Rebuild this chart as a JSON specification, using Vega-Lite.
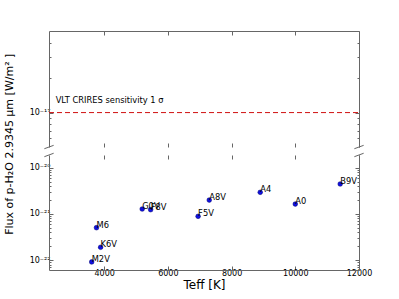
{
  "$schema": "https://vega.github.io/schema/vega-lite/v6.json",
  "padding": {"left": 4, "top": 30, "right": 5, "bottom": 5},
  "title": {"text": "Flux of p-H₂O 2.9345 μm [W/m² ]", "orient": "left", "anchor": "middle", "fontSize": 11, "fontWeight": "normal", "font": "DejaVu Sans", "color": "#000", "offset": 14, "dx": 16},
  "datasets": {
    "stars": [
      {"label": "M2V", "T": 3610, "F": 9.2e-23},
      {"label": "K6V", "T": 3890, "F": 1.91e-22},
      {"label": "M6", "T": 3760, "F": 5.06e-22},
      {"label": "G0V", "T": 5195, "F": 1.28e-21},
      {"label": "F8V", "T": 5460, "F": 1.24e-21},
      {"label": "F5V", "T": 6950, "F": 8.9e-22},
      {"label": "A8V", "T": 7300, "F": 2.0e-21},
      {"label": "A4", "T": 8900, "F": 2.94e-21},
      {"label": "A0", "T": 10000, "F": 1.64e-21},
      {"label": "B9V", "T": 11410, "F": 4.45e-21}
    ]
  },
  "vconcat": [
    {
      "width": 310,
      "height": 116,
      "layer": [
        {
          "data": {"values": [{"T": 2480, "F": 1.21e-17, "label": "VLT CRIRES sensitivity 1 σ"}]},
          "mark": {"type": "text", "align": "left", "baseline": "alphabetic", "fontSize": 8.3, "font": "DejaVu Sans", "color": "#000"},
          "encoding": {
            "x": {"field": "T", "type": "quantitative", "scale": {"domain": [2270, 12000], "nice": false, "zero": false},
                  "axis": {"orient": "bottom", "labels": false, "domain": false, "values": [4000, 6000, 8000, 10000, 12000], "tickSize": -4, "title": null}},
            "y": {"field": "F", "type": "quantitative", "scale": {"type": "log", "domain": [5.05e-18, 5.05e-17], "nice": false},
                  "axis": {"orient": "left", "title": null, "values": [6e-18, 7e-18, 8e-18, 9e-18, 1e-17, 2e-17, 3e-17, 4e-17],
                           "labelExpr": "datum.value == 1e-17 ? '10⁻¹⁷' : ''",
                           "tickSize": {"condition": {"test": "datum.value == 1e-17", "value": -4}, "value": -2}}},
            "text": {"field": "label"}
          }
        },
        {
          "data": {"values": [{"T0": 2270, "T1": 12000, "F": 1e-17}]},
          "mark": {"type": "rule", "color": "#d01010", "strokeDash": [5, 3], "strokeWidth": 1},
          "encoding": {
            "x": {"field": "T0", "type": "quantitative", "scale": {"domain": [2270, 12000], "nice": false, "zero": false},
                  "axis": {"orient": "top", "labels": false, "values": [4000, 6000, 8000, 10000, 12000], "tickSize": -4, "title": null}},
            "x2": {"field": "T1"},
            "y": {"field": "F", "type": "quantitative", "scale": {"type": "log", "domain": [5.05e-18, 5.05e-17], "nice": false},
                  "axis": {"orient": "right", "title": null, "labels": false, "values": [6e-18, 7e-18, 8e-18, 9e-18, 1e-17, 2e-17, 3e-17, 4e-17],
                           "tickSize": {"condition": {"test": "datum.value == 1e-17", "value": -4}, "value": -2}}}
          }
        },
        {
          "data": {"values": [{"T0": 2124, "T1": 2416, "F0": 4.88e-18, "F1": 5.22e-18}, {"T0": 11854, "T1": 12146, "F0": 4.88e-18, "F1": 5.22e-18}]},
          "mark": {"type": "rule", "color": "#666", "strokeWidth": 1},
          "encoding": {
            "x": {"field": "T0", "type": "quantitative", "scale": {"domain": [2270, 12000], "nice": false, "zero": false}, "axis": null},
            "x2": {"field": "T1"},
            "y": {"field": "F0", "type": "quantitative", "scale": {"type": "log", "domain": [5.05e-18, 5.05e-17], "nice": false}, "axis": null},
            "y2": {"field": "F1"}
          }
        }
      ],
      "resolve": {"axis": {"x": "independent", "y": "independent"}}
    },
    {
      "width": 310,
      "height": 115,
      "layer": [
        {
          "data": {"name": "stars"},
          "mark": {"type": "point", "filled": true, "size": 22, "color": "#1010e0", "stroke": "#000070", "strokeWidth": 0.5, "opacity": 1},
          "encoding": {
            "x": {"field": "T", "type": "quantitative", "scale": {"domain": [2270, 12000], "nice": false, "zero": false},
                  "axis": {"orient": "bottom", "title": "Teff [K]", "titleFontSize": 12, "titlePadding": 2, "format": "d", "labelFlush": false, "values": [4000, 6000, 8000, 10000, 12000], "tickSize": -4}},
            "y": {"field": "F", "type": "quantitative", "scale": {"type": "log", "domain": [6.17e-23, 1.88e-20], "nice": false},
                  "axis": {"orient": "left", "title": null,
                           "values": [7e-23, 8e-23, 9e-23, 1e-22, 2e-22, 3e-22, 4e-22, 5e-22, 6e-22, 7e-22, 8e-22, 9e-22, 1e-21, 2e-21, 3e-21, 4e-21, 5e-21, 6e-21, 7e-21, 8e-21, 9e-21, 1e-20],
                           "labelExpr": "datum.value == 1e-20 ? '10⁻²⁰' : datum.value == 1e-21 ? '10⁻²¹' : datum.value == 1e-22 ? '10⁻²²' : ''",
                           "tickSize": {"condition": {"test": "datum.value == 1e-20 || datum.value == 1e-21 || datum.value == 1e-22", "value": -4}, "value": -2}}}
          }
        },
        {
          "data": {"name": "stars"},
          "mark": {"type": "text", "align": "left", "baseline": "alphabetic", "fontSize": 8.3, "font": "DejaVu Sans", "color": "#000"},
          "encoding": {
            "x": {"field": "T", "type": "quantitative", "scale": {"domain": [2270, 12000], "nice": false, "zero": false},
                  "axis": {"orient": "top", "title": null, "labels": false, "domain": false, "values": [4000, 6000, 8000, 10000, 12000], "tickSize": -4}},
            "y": {"field": "F", "type": "quantitative", "scale": {"type": "log", "domain": [6.17e-23, 1.88e-20], "nice": false},
                  "axis": {"orient": "right", "title": null, "labels": false,
                           "values": [7e-23, 8e-23, 9e-23, 1e-22, 2e-22, 3e-22, 4e-22, 5e-22, 6e-22, 7e-22, 8e-22, 9e-22, 1e-21, 2e-21, 3e-21, 4e-21, 5e-21, 6e-21, 7e-21, 8e-21, 9e-21, 1e-20],
                           "tickSize": {"condition": {"test": "datum.value == 1e-20 || datum.value == 1e-21 || datum.value == 1e-22", "value": -4}, "value": -2}}},
            "text": {"field": "label"}
          }
        },
        {
          "data": {"values": [{"T0": 2124, "T1": 2416, "F0": 1.726e-20, "F1": 2.05e-20}, {"T0": 11854, "T1": 12146, "F0": 1.726e-20, "F1": 2.05e-20}]},
          "mark": {"type": "rule", "color": "#666", "strokeWidth": 1},
          "encoding": {
            "x": {"field": "T0", "type": "quantitative", "scale": {"domain": [2270, 12000], "nice": false, "zero": false}, "axis": null},
            "x2": {"field": "T1"},
            "y": {"field": "F0", "type": "quantitative", "scale": {"type": "log", "domain": [6.17e-23, 1.88e-20], "nice": false}, "axis": null},
            "y2": {"field": "F1"}
          }
        }
      ],
      "resolve": {"axis": {"x": "independent", "y": "independent"}}
    }
  ],
  "spacing": 8,
  "bounds": "flush",
  "config": {
    "view": {"stroke": null},
    "axis": {"grid": false, "domainColor": "#666", "tickColor": "#666", "domainWidth": 1, "tickWidth": 1, "labelColor": "#000", "labelFont": "DejaVu Sans", "labelFontSize": 8, "titleFont": "DejaVu Sans", "titleFontWeight": "normal", "titleColor": "#000", "labelOverlap": false, "labelPadding": 3}
  }
}
